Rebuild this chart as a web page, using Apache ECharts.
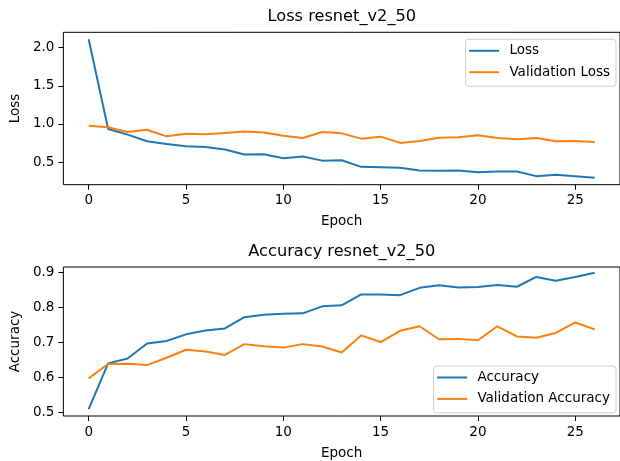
<!DOCTYPE html>
<html>
<head>
<meta charset="utf-8">
<script src="https://cdn.jsdelivr.net/npm/echarts@6/dist/echarts.min.js"></script>
<style>
html,body{margin:0;padding:0;background:#fff;}
#c{width:620px;height:461px;}
</style>
</head>
<body>
<div id="c"></div>
<script>
var epochs = [0,1,2,3,4,5,6,7,8,9,10,11,12,13,14,15,16,17,18,19,20,21,22,23,24,25,26];
var loss = [2.11,0.935,0.86,0.773,0.739,0.708,0.70,0.665,0.60,0.604,0.551,0.573,0.52,0.525,0.439,0.434,0.426,0.391,0.387,0.391,0.369,0.378,0.378,0.317,0.335,0.317,0.296];
var valLoss = [0.978,0.956,0.895,0.925,0.838,0.873,0.865,0.883,0.90,0.887,0.847,0.817,0.895,0.877,0.808,0.834,0.752,0.778,0.821,0.825,0.851,0.817,0.80,0.817,0.773,0.778,0.765];
var acc = [0.509,0.640,0.654,0.697,0.704,0.723,0.734,0.740,0.772,0.779,0.782,0.783,0.803,0.806,0.837,0.837,0.835,0.856,0.863,0.857,0.858,0.864,0.859,0.887,0.876,0.887,0.899];
var valAcc = [0.597,0.638,0.639,0.635,0.656,0.679,0.674,0.664,0.695,0.689,0.685,0.695,0.688,0.671,0.720,0.701,0.733,0.746,0.709,0.710,0.706,0.746,0.717,0.713,0.727,0.757,0.737];
var xTicks = [0,5,10,15,20,25];
var lossTicks = [0.5,1.0,1.5,2.0];
var accTicks = [0.5,0.6,0.7,0.8,0.9];

var FONT = 'DejaVu Sans';
var TXT = '#000';
function pairs(ys){ return epochs.map(function(e,i){ return [e, ys[i]]; }); }

function xAx(gi){
  return {
    type:'value', gridIndex:gi, min:-1.3, max:27.3,
    name:'Epoch', nameLocation:'middle', nameGap:30,
    nameTextStyle:{fontFamily:FONT,fontSize:13.5,color:TXT},
    axisLine:{show:false,onZero:false},
    splitLine:{show:false},
    axisTick:{show:true,length:5,inside:false,customValues:xTicks,lineStyle:{color:'#000',width:1}},
    axisLabel:{customValues:xTicks,fontFamily:FONT,fontSize:13.5,color:TXT,margin:9,
      formatter:function(v){return String(Math.round(v));}}
  };
}
function yAx(gi,name,mn,mx,ticks){
  return {
    type:'value', gridIndex:gi, min:mn, max:mx,
    name:name, nameLocation:'middle', nameGap:37,
    nameTextStyle:{fontFamily:FONT,fontSize:13.5,color:TXT},
    axisLine:{show:false,onZero:false},
    splitLine:{show:false},
    axisTick:{show:true,length:5,inside:false,customValues:ticks,lineStyle:{color:'#000',width:1}},
    axisLabel:{customValues:ticks,fontFamily:FONT,fontSize:13.5,color:TXT,margin:9,
      formatter:function(v){return v.toFixed(1);}}
  };
}
function ln(name,xi,data,color){
  return {type:'line',name:name,xAxisIndex:xi,yAxisIndex:xi,data:pairs(data),
    symbol:'none',showSymbol:false,smooth:false,
    lineStyle:{color:color,width:2},itemStyle:{color:color},
    emphasis:{disabled:true},silent:true,animation:false};
}
function leg(names,top){
  return {
    orient:'vertical', right:4, top:top, data:names,
    icon:'rect', itemWidth:30, itemHeight:2, itemGap:7.4,
    padding:[4.5,6,7,3.5],
    backgroundColor:'rgba(255,255,255,0.8)', borderColor:'#d0d0d0', borderWidth:1, borderRadius:3,
    textStyle:{fontFamily:FONT,fontSize:13.5,color:TXT,lineHeight:14,padding:[0,0,0,5.3]},
    selectedMode:false
  };
}

var chart = echarts.init(document.getElementById('c'),null,{renderer:'canvas'});
chart.setOption({
  animation:false,
  backgroundColor:'#fff',
  title:[
    {text:'Loss resnet_v2_50',left:341.8,textAlign:'center',top:8.5,padding:0,
      textStyle:{fontFamily:FONT,fontSize:16.2,fontWeight:'normal',color:TXT}},
    {text:'Accuracy resnet_v2_50',left:341.8,textAlign:'center',top:243.5,padding:0,
      textStyle:{fontFamily:FONT,fontSize:16.2,fontWeight:'normal',color:TXT}}
  ],
  grid:[
    {left:61,right:-2.6,top:32.3,height:152.4,show:true,borderColor:'#000',borderWidth:1,backgroundColor:'transparent',containLabel:false},
    {left:61,right:-2.6,top:267,height:152.5,show:true,borderColor:'#000',borderWidth:1,backgroundColor:'transparent',containLabel:false}
  ],
  xAxis:[xAx(0),xAx(1)],
  yAxis:[yAx(0,'Loss',0.205,2.2,lossTicks),yAx(1,'Accuracy',0.4895,0.9155,accTicks)],
  legend:[leg(['Loss','Validation Loss'],39.3),leg(['Accuracy','Validation Accuracy'],366)],
  series:[
    ln('Loss',0,loss,'#1f77b4'),
    ln('Validation Loss',0,valLoss,'#ff7f0e'),
    ln('Accuracy',1,acc,'#1f77b4'),
    ln('Validation Accuracy',1,valAcc,'#ff7f0e')
  ]
});
</script>
</body>
</html>
